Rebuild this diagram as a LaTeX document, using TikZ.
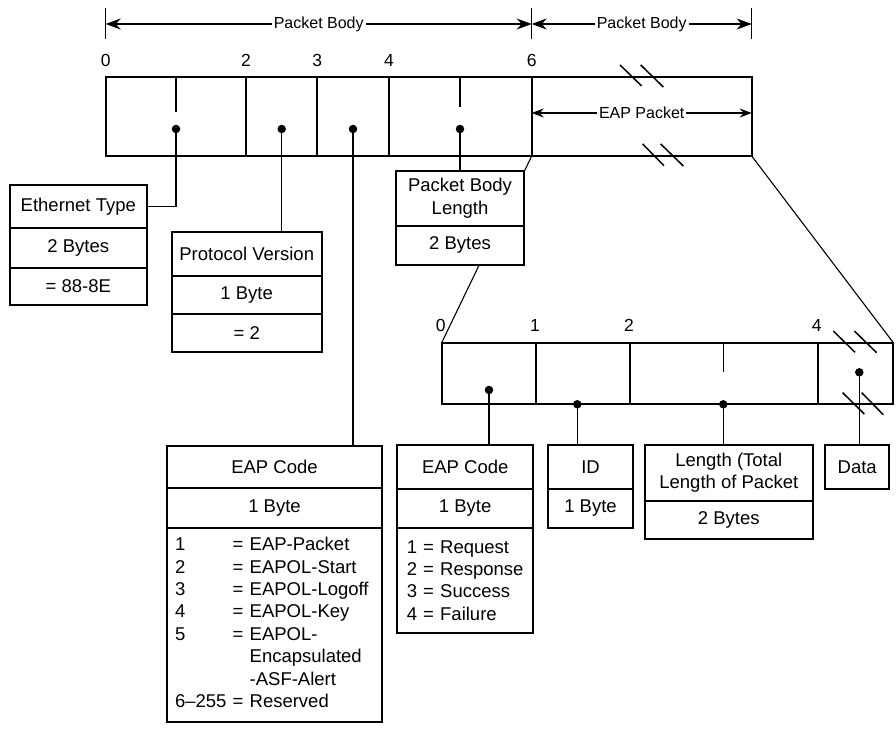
\documentclass[tikz,border=0pt]{standalone}
\usepackage{fontspec}
\setmainfont{Liberation Sans}
\usetikzlibrary{arrows.meta}
\begin{document}
\begin{tikzpicture}[x=1pt,y=-1pt,
  barcell/.style={draw, line width=2pt, inner sep=0pt, outer sep=0pt, minimum height=#1},
  cell/.style={draw, line width=1.8pt, fill=white, inner sep=0pt, outer sep=0pt,
    font=\fontsize{18.5}{22.4}\selectfont, align=center},
  num/.style={inner sep=0pt, font=\fontsize{17.5}{20}\selectfont},
  dimlabel/.style={fill=white, inner xsep=2pt, inner ysep=1pt, font=\fontsize{16}{19}\selectfont},
  dimline/.style={line width=1.1pt, {Stealth[length=15pt,width=11pt]}-{Stealth[length=15pt,width=11pt]}},
  eapline/.style={line width=1.1pt, {Stealth[length=12pt,width=9pt]}-{Stealth[length=12pt,width=9pt]}},
  dimtick/.style={line width=1.1pt},
  tickline/.style={line width=1.5pt},
  brk/.style={line width=1.5pt},
  conn/.style={line width=1.1pt},
  dot/.style={circle, fill=black, inner sep=0pt, minimum size=8.5pt}
]
\useasboundingbox (0,0) rectangle (896,730);

% ---- dimension arrows on top
\coordinate (pL) at (105.7,24);
\coordinate (pM) at (531.7,24);
\coordinate (pR) at (751.7,24);
\draw[dimtick] (105.7,8) -- (105.7,39);
\draw[dimtick] (531.7,8) -- (531.7,39);
\draw[dimtick] (751.7,8) -- (751.7,39);
\draw[dimline] (pL) -- (pM) node[midway, dimlabel] (lab1) {Packet Body};
\draw[dimline] (pM) -- (pR) node[midway, dimlabel] (lab2) {Packet Body};

% ---- byte offsets, top
\node[num] (n0) at (105.7,60) {0};
\node[num] (n2) at (246,60) {2};
\node[num] (n3) at (317.3,60) {3};
\node[num] (n4) at (389,60) {4};
\node[num] (n6) at (531.7,60) {6};

% ---- top bar
\node[barcell=79, minimum width=140.3] (b0) at (175.85,116.5) {};
\node[barcell=79, minimum width=71.3]  (b1) at (281.65,116.5) {};
\node[barcell=79, minimum width=71.7]  (b2) at (353.15,116.5) {};
\node[barcell=79, minimum width=142.7] (b3) at (460.35,116.5) {};
\node[barcell=79, minimum width=220]   (b4) at (641.7,116.5) {};

\draw[tickline] (176,77) -- (176,112);
\draw[tickline] (460,77) -- (460,107);

\draw[eapline] ([yshift=3.5pt]b4.west) -- ([yshift=3.5pt]b4.east)
  node[midway, dimlabel] (eapl) {EAP Packet};

% break marks in top bar
\draw[brk] (620,65) -- (641.7,86);
\draw[brk] (640.7,65) -- (663.3,87);
\draw[brk] (642.7,144) -- (664,165.7);
\draw[brk] (660.7,144) -- (683.3,166);

% ---- lower bar
\node[num] (m0) at (440.7,325) {0};
\node[num] (m1) at (535,325) {1};
\node[num] (m2) at (629,325) {2};
\node[num] (m4) at (816.7,325) {4};

\node[barcell=61.6, minimum width=94]   (l0) at (488.7,373.5) {};
\node[barcell=61.6, minimum width=94.3] (l1) at (582.85,373.5) {};
\node[barcell=61.6, minimum width=187.7] (l2) at (723.85,373.5) {};
\node[barcell=61.6, minimum width=75.6] (l3) at (855.5,373.5) {};

\draw[tickline] (723.3,342.7) -- (723.3,371.7);

\draw[brk] (833.3,331) -- (855,352.3);
\draw[brk] (854.3,331) -- (876.7,352.7);
\draw[brk] (842.7,392.7) -- (864.3,414);
\draw[brk] (861.7,392.7) -- (883.3,414.7);

% ---- expansion lines
\draw[conn] (b4.south west) -- (l0.north west);
\draw[conn] (b4.south east) -- (l3.north east);

% ---- dots
\node[dot] (d0) at (176,129) {};
\node[dot] (d1) at (281.7,129) {};
\node[dot] (d2) at (353,129) {};
\node[dot] (d3) at (460,129) {};
\node[dot] (d4) at (489,390) {};
\node[dot] (d5) at (577.3,404.3) {};
\node[dot] (d6) at (723.3,404.3) {};
\node[dot] (d7) at (859.3,372.3) {};

% ---- Ethernet Type
\node[cell, minimum width=136.7, minimum height=43.3] (eth1) at (78.3,206.7) {Ethernet Type};
\node[cell, minimum width=136.7, minimum height=39.4] (eth2) at (78.3,248) {2 Bytes};
\node[cell, minimum width=136.7, minimum height=37.3] (eth3) at (78.3,286.3) {= 88-8E};

% ---- Protocol Version
\node[cell, minimum width=150, minimum height=44] (pv1) at (246.7,253.7) {Protocol Version};
\node[cell, minimum width=150, minimum height=38.6] (pv2) at (246.7,295) {1 Byte};
\node[cell, minimum width=150, minimum height=37.4] (pv3) at (246.7,333) {= 2};

% ---- Packet Body Length
\node[cell, minimum width=128.6, minimum height=55.3] (pbl1) at (460,198.3) {Packet Body\\Length};
\node[cell, minimum width=128.6, minimum height=38.7] (pbl2) at (460,245.3) {2 Bytes};

% ---- EAPOL EAP Code
\node[cell, minimum width=214.4, minimum height=42.6] (ec1) at (274.5,467) {EAP Code};
\node[cell, minimum width=214.4, minimum height=39.4] (ec2) at (274.5,508) {1 Byte};
\node[cell, minimum width=214.4, minimum height=194, text width=199pt, inner xsep=7.7pt, align=left] (ec3) at (274.5,624.7)
 {\begin{tabular}{@{}p{57.7pt}@{}l@{}}
  1 & = EAP-Packet\\
  2 & = EAPOL-Start\\
  3 & = EAPOL-Logoff\\
  4 & = EAPOL-Key\\
  5 & = EAPOL-\\
    & \phantom{= }Encapsulated\\
    & \phantom{= }-ASF-Alert\\
  6\textendash 255 & = Reserved
 \end{tabular}};

% ---- EAP packet fields
\node[cell, minimum width=136.3, minimum height=44] (sc1) at (465.2,467) {EAP Code};
\node[cell, minimum width=136.3, minimum height=38.7] (sc2) at (465.2,508.3) {1 Byte};
\node[cell, minimum width=136.3, minimum height=105.6, text width=116.9pt, inner xsep=9.7pt, align=left] (sc3) at (465.2,580.5)
 {1 = Request\\2 = Response\\3 = Success\\4 = Failure};

\node[cell, minimum width=85.6, minimum height=44] (id1) at (590.5,467) {ID};
\node[cell, minimum width=85.6, minimum height=38.7] (id2) at (590.5,508.3) {1 Byte};

\node[cell, minimum width=167.7, minimum height=56] (len1) at (728.8,473) {Length (Total\\Length of Packet};
\node[cell, minimum width=167.7, minimum height=38.3] (len2) at (728.8,520.2) {2 Bytes};

\node[cell, minimum width=64.3, minimum height=44.3] (data) at (857.2,467.2) {Data};

% ---- connectors
\draw[conn] (d0.center) |- (eth1.east);
\draw[conn] (d1.center) -- (d1.center |- pv1.north);
\draw[conn] (d2.center) -- (d2.center |- ec1.north);
\draw[conn] (d3.center) -- (d3.center |- pbl1.north);
\draw[conn] (d4.center) -- (d4.center |- sc1.north);
\draw[conn] (d5.center) -- (d5.center |- id1.north);
\draw[conn] (d6.center) -- (d6.center |- len1.north);
\draw[conn] (d7.center) -- (d7.center |- data.north);
\end{tikzpicture}
\end{document}
